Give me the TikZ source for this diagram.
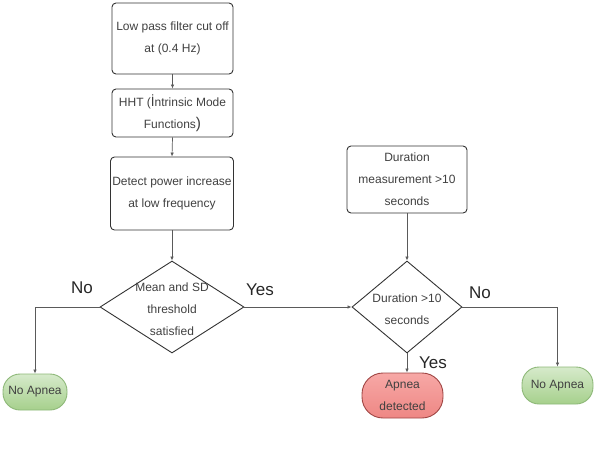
\documentclass[tikz,border=0pt]{standalone}
\usepackage{fontspec}
\setmainfont{Liberation Sans}
\usetikzlibrary{shapes.geometric,arrows.meta}
\definecolor{txt}{HTML}{404040}
\definecolor{edge}{HTML}{5A5A5A}
\definecolor{gtop}{HTML}{D6EACB}
\definecolor{gbot}{HTML}{A6D08C}
\definecolor{gline}{HTML}{8DB878}
\definecolor{rtop}{HTML}{F7A8A6}
\definecolor{rbot}{HTML}{EE8784}
\definecolor{rline}{HTML}{A04644}
\begin{document}
\begin{tikzpicture}[x=1pt,y=-1pt,
  every node/.style={text=txt},
  box/.style={draw=black!80, rounded corners=4pt, line width=0.9pt, align=center, inner sep=0pt,
    font=\fontsize{12}{22}\selectfont},
  dia/.style={draw=black!80, diamond, line width=0.9pt, inner sep=0pt},
  dtext/.style={align=center, inner sep=0pt, font=\fontsize{12}{22}\selectfont},
  term/.style={line width=0.9pt, align=center, inner sep=0pt, font=\fontsize{12}{22}\selectfont},
  green/.style={term, draw=gline, top color=gtop, bottom color=gbot},
  red/.style={term, draw=rline, top color=rtop, bottom color=rbot},
  lab/.style={font=\fontsize{17}{20}\selectfont, text=black!85, inner sep=0pt},
  conn/.style={draw=edge, line width=0.7pt, -{Latex[length=4pt,width=3.5pt]}}
]
\useasboundingbox (0,0) rectangle (600,448);

\node[box, minimum width=121, minimum height=71] (b1) at (172.5,38.5) {Low pass filter cut off\\at (0.4 Hz)};
\node[box, minimum width=121, minimum height=48] (b2) at (172.5,113) {HHT ({\fontsize{13.5}{22}\selectfont İ}ntrinsic Mode\\Functions{\fontsize{15.5}{22}\selectfont )}};
\node[box, minimum width=123, minimum height=73] (b3) at (172,193.5) {Detect power increase\\at low frequency};
\node[box, minimum width=120, minimum height=67] (b4) at (407,179.5) {Duration\\measurement >10\\seconds};

\node[dia, minimum width=144, minimum height=92] (d1) at (172,307) {};
\node[dtext] (d1t) at (172,309) {Mean and SD\\threshold\\satisfied};
\node[dia, minimum width=110, minimum height=92] (d2) at (407,307) {};
\node[dtext] (d2t) at (407,309) {Duration >10\\seconds};

\node[green, minimum width=64, minimum height=36, rounded corners=17pt] (n1) at (35,392) {No Apnea};
\node[red, minimum width=81, minimum height=45, rounded corners=21pt] (ap) at (402.5,395.5) {Apnea\\detected};
\node[green, minimum width=71, minimum height=37, rounded corners=17pt] (n2) at (557.5,385.5) {No Apnea};

\node[lab] (l1) at (82,288) {No};
\node[lab] (l2) at (260,290) {Yes};
\node[lab] (l3) at (480,293) {No};
\node[lab] (l4) at (433,363) {Yes};

\draw[conn] (b1.south) -- (b2.north);
\draw[conn] (b2.south) -- (b3.north);
\draw[conn] (b3.south) -- (d1.north);
\draw[conn] (d1.west) -| (n1.north);
\draw[conn] (d1.east) -- (d2.west);
\draw[conn] (b4.south) -- (d2.north);
\draw[conn] (d2.east) -| (n2.north);
\draw[conn] (d2.south) -- (d2.south |- ap.north);
\end{tikzpicture}
\end{document}
